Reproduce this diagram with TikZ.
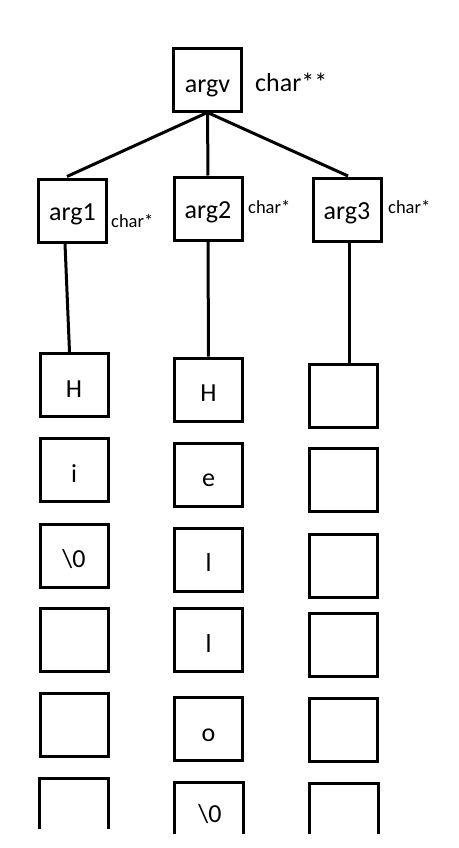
\documentclass[tikz,border=0pt]{standalone}
\usepackage{fontspec}
\setmainfont{Carlito}
\begin{document}
\begin{tikzpicture}[x=1pt,y=-1pt,
  box/.style={draw,line width=3pt,inner sep=0pt,minimum width=68pt,minimum height=63pt,text height=24pt,text depth=0pt,font=\fontsize{26}{30}\selectfont},
  argbox/.style={box,text height=19pt},
  big/.style={font=\fontsize{26}{30}\selectfont,inner sep=0pt},
  small/.style={font=\fontsize{18.5}{22}\selectfont,inner sep=0pt},
  link/.style={line width=3pt},
  openbox/.style={line width=3pt}]
\useasboundingbox (0,0) rectangle (458,848);
% top
\node[box] (argv) at (207.5,80.5) {argv};
\node[big,anchor=base west] (argvt) at (255,92) {char**};
% second level
\node[argbox] (arg1) at (72.5,210.5) {arg1};
\node[argbox] (arg2) at (208,208.5) {arg2};
\node[argbox] (arg3) at (347,210) {arg3};
\node[small,anchor=base west] (t1) at (111,227) {char*};
\node[small,anchor=base west] (t2) at (248,213) {char*};
\node[small,anchor=base west] (t3) at (388,213) {char*};
\draw[link] ([yshift=1pt]argv.south) -- ([xshift=-5.5pt,yshift=1pt]arg1.north);
\draw[link] ([yshift=1pt]argv.south) -- (arg2.north);
\draw[link] ([yshift=1pt]argv.south) -- ([xshift=1pt,yshift=1pt]arg3.north);
% column 1
\node[box] (c1r1) at (74,385) {H};
\node[box] (c1r2) at (74,470) {i};
\node[box] (c1r3) at (74,555.5) {\textbackslash 0};
\node[box] (c1r4) at (74,640) {};
\node[box] (c1r5) at (74,725) {};
% column 2
\node[box] (c2r1) at (208.5,389.5) {H};
\node[box] (c2r2) at (208.5,474.5) {e};
\node[box] (c2r3) at (208.5,559.5) {l};
\node[box] (c2r4) at (208.5,640) {l};
\node[box] (c2r5) at (208.5,729) {o};
% column 3
\node[box] (c3r1) at (343.5,395.5) {};
\node[box] (c3r2) at (343.5,480) {};
\node[box] (c3r3) at (343.5,565.5) {};
\node[box] (c3r4) at (343.5,645) {};
\node[box] (c3r5) at (343.5,730) {};
% open bottom boxes
\node[big,anchor=base] (c2r6) at (210,822) {\textbackslash 0};
\draw[openbox] (39.5,829) -- (39.5,778.5) -- (108.5,778.5) -- (108.5,829);
\draw[openbox] (174.5,834) -- (174.5,782.5) -- (243.5,782.5) -- (243.5,834);
\draw[openbox] (309,834) -- (309,783.5) -- (378,783.5) -- (378,834);
% links to strings
\draw[link] ([xshift=-7.5pt]arg1.south) -- ([xshift=-4.5pt]c1r1.north);
\draw[link] (arg2.south) -- (c2r1.north);
\draw[link] ([xshift=2pt]arg3.south) -- ([xshift=5.5pt]c3r1.north);
\end{tikzpicture}
\end{document}
